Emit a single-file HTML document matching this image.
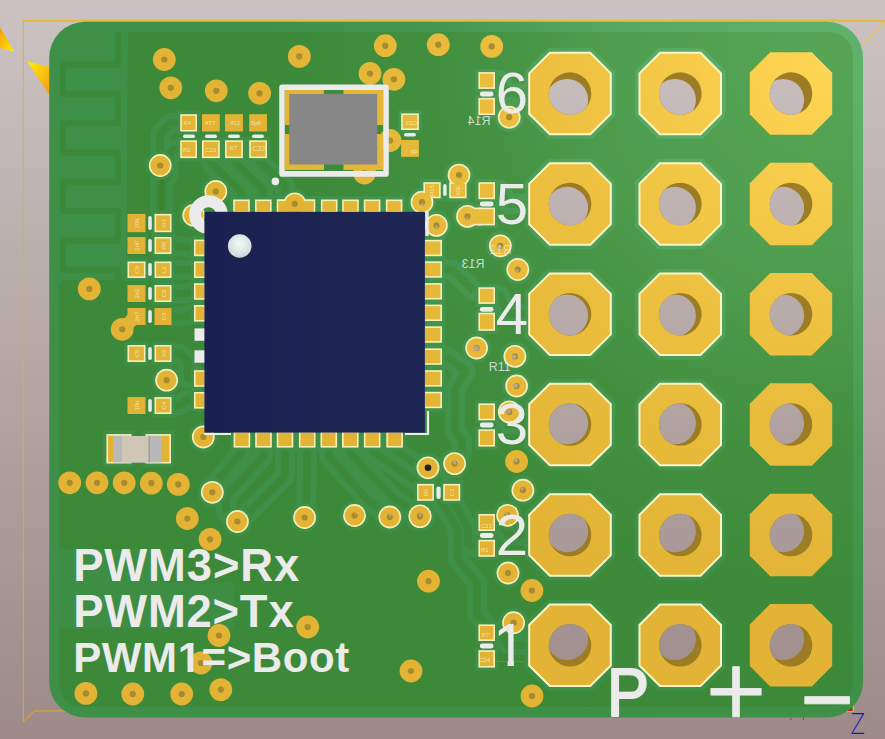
<!DOCTYPE html>
<html lang="en"><head><meta charset="utf-8"><title>PCB 3D view</title>
<style>html,body{margin:0;padding:0;background:#b3a5a4;overflow:hidden}svg{display:block}text{font-family:"Liberation Sans",sans-serif}</style></head><body>
<svg width="885" height="739" viewBox="0 0 885 739">
<defs>
<linearGradient id="bg" x1="0" y1="0" x2="0" y2="1"><stop offset="0" stop-color="#cbc3c2"/><stop offset="1" stop-color="#9d8a89"/></linearGradient>
<radialGradient id="green" gradientUnits="userSpaceOnUse" cx="830" cy="60" r="700"><stop offset="0" stop-color="#60b36b"/><stop offset="0.3" stop-color="#57a962"/><stop offset="0.55" stop-color="#469850"/><stop offset="0.8" stop-color="#3f9149"/><stop offset="1" stop-color="#3e9048"/></radialGradient>
<radialGradient id="gold" gradientUnits="userSpaceOnUse" cx="830" cy="60" r="560"><stop offset="0" stop-color="#ffd654"/><stop offset="0.5" stop-color="#edc040"/><stop offset="1" stop-color="#e2b334"/></radialGradient>
<linearGradient id="tri" x1="0" y1="0" x2="1" y2="1"><stop offset="0" stop-color="#f59a10"/><stop offset="1" stop-color="#fff000"/></linearGradient>
<linearGradient id="tri2" x1="0" y1="0" x2="1" y2="1"><stop offset="0" stop-color="#fff000"/><stop offset="1" stop-color="#f09020"/></linearGradient>
<linearGradient id="chip" x1="0" y1="0" x2="1" y2="0"><stop offset="0" stop-color="#1a2150"/><stop offset="1" stop-color="#1f2755"/></linearGradient>
<radialGradient id="dot" cx="0.5" cy="0.4" r="0.6"><stop offset="0" stop-color="#f4fbfa"/><stop offset="1" stop-color="#c9d9d8"/></radialGradient>
<clipPath id="boardclip"><rect x="49.2" y="21.8" width="813.8" height="695.8" rx="36"/></clipPath>
</defs>
<rect width="885" height="739" fill="url(#bg)"/>
<g fill="none" stroke="#e0b030" stroke-width="1.2"><path stroke-width="2" stroke="#e6b93a" d="M885,20.8 H22.8"/><path stroke-width="0.9" d="M23.3,21 V721.5 L34.2,710.9 H72"/><path stroke-width="0.8" stroke="#e8c040" d="M885,22 L858,49"/></g>
<polygon points="0,27 14.6,52 0,47.8" fill="url(#tri)"/>
<polygon points="27,61.2 52,67.5 52,99" fill="url(#tri2)"/>
<path d="M790,720 L791.8,717.7 M803.4,717.7 V719.8" stroke="#e01010" stroke-width="1" fill="none"/>
<rect x="845" y="700" width="9" height="12" fill="#e0b030"/><polygon points="848,711 853,711 851,705" fill="#e01010"/><polygon points="851,705 853,700 853,711" fill="#10d010"/>
<text x="850.5" y="733.5" font-size="28" fill="#1515c8" textLength="14.5" lengthAdjust="spacingAndGlyphs" style="font-family:'DejaVu Sans','Liberation Sans',sans-serif;font-weight:200">Z</text>
<rect x="49.2" y="21.8" width="813.8" height="695.8" rx="36" fill="url(#green)"/>
<g clip-path="url(#boardclip)">
<path fill="rgba(50,110,0,0.20)" d="M128,32 H826 Q853,32 853,59 V680 Q853,707 826,707 H86 Q59,707 59,680 V284 L63,280 H126 Z"/>
<path d="M118,32 V64.6 H63 V93.9 H118 V123.2 H63 V152.5 H118 V181.8 H63 V211.1 H118 V240.4 H63 V269.7 H118 V280" fill="none" stroke="rgba(50,110,0,0.20)" stroke-width="6" stroke-linejoin="round"/>
<path d="M59,549 H165.6 V582.7 H234 V628.4 H59 Z" fill="url(#green)" fill-opacity="0.75"/>
<path d="M180.0,123.0 L170.0,123.0 L160.2,134.0 L160.2,213.0" fill="none" stroke="url(#green)" stroke-width="20" stroke-linejoin="round" stroke-linecap="round"/>
<path d="M180.0,149.0 L174.0,149.0 L168.0,156.0 L168.0,176.0 L163.0,182.0 L163.0,213.0" fill="none" stroke="url(#green)" stroke-width="20" stroke-linejoin="round" stroke-linecap="round"/>
<path d="M211.0,158.0 L211.0,163.0 L241.5,192.0 L241.5,200.0" fill="none" stroke="url(#green)" stroke-width="20" stroke-linejoin="round" stroke-linecap="round"/>
<path d="M234.0,158.0 L234.0,161.0 L263.3,190.0 L263.3,200.0" fill="none" stroke="url(#green)" stroke-width="20" stroke-linejoin="round" stroke-linecap="round"/>
<path d="M258.0,158.0 L258.0,160.0 L285.0,186.0 L285.0,200.0" fill="none" stroke="url(#green)" stroke-width="20" stroke-linejoin="round" stroke-linecap="round"/>
<path d="M171.5,245.5 L194.0,247.9" fill="none" stroke="url(#green)" stroke-width="20" stroke-linejoin="round" stroke-linecap="round"/>
<path d="M171.5,269.7 L194.0,269.7" fill="none" stroke="url(#green)" stroke-width="20" stroke-linejoin="round" stroke-linecap="round"/>
<path d="M171.5,293.5 L185.0,293.5 L194.0,291.5" fill="none" stroke="url(#green)" stroke-width="20" stroke-linejoin="round" stroke-linecap="round"/>
<path d="M171.5,316.5 L185.0,316.5 L194.0,313.3" fill="none" stroke="url(#green)" stroke-width="20" stroke-linejoin="round" stroke-linecap="round"/>
<path d="M171.5,353.5 L180.0,353.5 L188.0,361.0 L188.0,378.5 L194.0,378.5" fill="none" stroke="url(#green)" stroke-width="20" stroke-linejoin="round" stroke-linecap="round"/>
<path d="M171.5,405.5 L180.0,405.5 L186.0,400.3 L194.0,400.3" fill="none" stroke="url(#green)" stroke-width="20" stroke-linejoin="round" stroke-linecap="round"/>
<path d="M241.9,447.6 L241.9,452.0 L214.0,485.0" fill="none" stroke="url(#green)" stroke-width="20" stroke-linejoin="round" stroke-linecap="round"/>
<path d="M263.5,447.6 L263.5,456.0 L226.0,497.0 L226.0,512.0 L232.0,517.0" fill="none" stroke="url(#green)" stroke-width="20" stroke-linejoin="round" stroke-linecap="round"/>
<path d="M285.0,447.6 L285.0,476.0 L246.0,515.0" fill="none" stroke="url(#green)" stroke-width="20" stroke-linejoin="round" stroke-linecap="round"/>
<path d="M307.2,447.6 L306.0,517.0" fill="none" stroke="url(#green)" stroke-width="20" stroke-linejoin="round" stroke-linecap="round"/>
<path d="M328.8,447.6 L328.8,456.0 L366.0,498.0 L385.0,513.0" fill="none" stroke="url(#green)" stroke-width="20" stroke-linejoin="round" stroke-linecap="round"/>
<path d="M350.3,447.6 L350.3,453.0 L395.0,500.0 L416.0,513.0" fill="none" stroke="url(#green)" stroke-width="20" stroke-linejoin="round" stroke-linecap="round"/>
<path d="M372.2,447.6 L372.2,451.0 L438.0,497.0 L457.6,528.0 L457.6,559.0 L477.0,583.0 L477.0,614.0 L486.0,624.0" fill="none" stroke="url(#green)" stroke-width="20" stroke-linejoin="round" stroke-linecap="round"/>
<path d="M394.6,447.6 L394.6,449.0 L440.0,482.0 L447.0,490.0 L468.0,528.0 L468.0,545.0 L478.0,548.0" fill="none" stroke="url(#green)" stroke-width="20" stroke-linejoin="round" stroke-linecap="round"/>
<path d="M442.0,269.5 L452.0,269.5 L474.0,291.0" fill="none" stroke="url(#green)" stroke-width="20" stroke-linejoin="round" stroke-linecap="round"/>
<path d="M442.0,356.6 L448.0,357.0 L466.0,371.0 L455.0,389.0 L455.0,431.0 L462.0,440.0 L462.0,452.0" fill="none" stroke="url(#green)" stroke-width="20" stroke-linejoin="round" stroke-linecap="round"/>
<path d="M495.0,80.0 L500.0,80.0 L508.0,93.6 L529.0,93.6" fill="none" stroke="url(#green)" stroke-width="20" stroke-linejoin="round" stroke-linecap="round"/>
<path d="M495.0,190.0 L500.0,190.0 L508.0,204.0 L529.0,204.0" fill="none" stroke="url(#green)" stroke-width="20" stroke-linejoin="round" stroke-linecap="round"/>
<path d="M495.0,296.0 L500.0,296.0 L508.0,314.0 L529.0,314.0" fill="none" stroke="url(#green)" stroke-width="20" stroke-linejoin="round" stroke-linecap="round"/>
<path d="M495.0,412.0 L500.0,412.0 L508.0,424.5 L529.0,424.5" fill="none" stroke="url(#green)" stroke-width="20" stroke-linejoin="round" stroke-linecap="round"/>
<path d="M495.0,522.0 L500.0,522.0 L508.0,535.0 L529.0,535.0" fill="none" stroke="url(#green)" stroke-width="20" stroke-linejoin="round" stroke-linecap="round"/>
<path d="M495.0,632.0 L500.0,632.0 L508.0,645.0 L529.0,645.0" fill="none" stroke="url(#green)" stroke-width="20" stroke-linejoin="round" stroke-linecap="round"/>
<path d="M180.0,123.0 L170.0,123.0 L160.2,134.0 L160.2,213.0" fill="none" stroke="rgba(50,110,0,0.20)" stroke-width="7.5" stroke-linejoin="round" stroke-linecap="butt"/>
<path d="M180.0,149.0 L174.0,149.0 L168.0,156.0 L168.0,176.0 L163.0,182.0 L163.0,213.0" fill="none" stroke="rgba(50,110,0,0.20)" stroke-width="7.5" stroke-linejoin="round" stroke-linecap="butt"/>
<path d="M211.0,158.0 L211.0,163.0 L241.5,192.0 L241.5,200.0" fill="none" stroke="rgba(50,110,0,0.20)" stroke-width="7.5" stroke-linejoin="round" stroke-linecap="butt"/>
<path d="M234.0,158.0 L234.0,161.0 L263.3,190.0 L263.3,200.0" fill="none" stroke="rgba(50,110,0,0.20)" stroke-width="7.5" stroke-linejoin="round" stroke-linecap="butt"/>
<path d="M258.0,158.0 L258.0,160.0 L285.0,186.0 L285.0,200.0" fill="none" stroke="rgba(50,110,0,0.20)" stroke-width="7.5" stroke-linejoin="round" stroke-linecap="butt"/>
<path d="M171.5,245.5 L194.0,247.9" fill="none" stroke="rgba(50,110,0,0.20)" stroke-width="7.5" stroke-linejoin="round" stroke-linecap="butt"/>
<path d="M171.5,269.7 L194.0,269.7" fill="none" stroke="rgba(50,110,0,0.20)" stroke-width="7.5" stroke-linejoin="round" stroke-linecap="butt"/>
<path d="M171.5,293.5 L185.0,293.5 L194.0,291.5" fill="none" stroke="rgba(50,110,0,0.20)" stroke-width="7.5" stroke-linejoin="round" stroke-linecap="butt"/>
<path d="M171.5,316.5 L185.0,316.5 L194.0,313.3" fill="none" stroke="rgba(50,110,0,0.20)" stroke-width="7.5" stroke-linejoin="round" stroke-linecap="butt"/>
<path d="M171.5,353.5 L180.0,353.5 L188.0,361.0 L188.0,378.5 L194.0,378.5" fill="none" stroke="rgba(50,110,0,0.20)" stroke-width="7.5" stroke-linejoin="round" stroke-linecap="butt"/>
<path d="M171.5,405.5 L180.0,405.5 L186.0,400.3 L194.0,400.3" fill="none" stroke="rgba(50,110,0,0.20)" stroke-width="7.5" stroke-linejoin="round" stroke-linecap="butt"/>
<path d="M241.9,447.6 L241.9,452.0 L214.0,485.0" fill="none" stroke="rgba(50,110,0,0.20)" stroke-width="7.5" stroke-linejoin="round" stroke-linecap="butt"/>
<path d="M263.5,447.6 L263.5,456.0 L226.0,497.0 L226.0,512.0 L232.0,517.0" fill="none" stroke="rgba(50,110,0,0.20)" stroke-width="7.5" stroke-linejoin="round" stroke-linecap="butt"/>
<path d="M285.0,447.6 L285.0,476.0 L246.0,515.0" fill="none" stroke="rgba(50,110,0,0.20)" stroke-width="7.5" stroke-linejoin="round" stroke-linecap="butt"/>
<path d="M307.2,447.6 L306.0,517.0" fill="none" stroke="rgba(50,110,0,0.20)" stroke-width="7.5" stroke-linejoin="round" stroke-linecap="butt"/>
<path d="M328.8,447.6 L328.8,456.0 L366.0,498.0 L385.0,513.0" fill="none" stroke="rgba(50,110,0,0.20)" stroke-width="7.5" stroke-linejoin="round" stroke-linecap="butt"/>
<path d="M350.3,447.6 L350.3,453.0 L395.0,500.0 L416.0,513.0" fill="none" stroke="rgba(50,110,0,0.20)" stroke-width="7.5" stroke-linejoin="round" stroke-linecap="butt"/>
<path d="M372.2,447.6 L372.2,451.0 L438.0,497.0 L457.6,528.0 L457.6,559.0 L477.0,583.0 L477.0,614.0 L486.0,624.0" fill="none" stroke="rgba(50,110,0,0.20)" stroke-width="7.5" stroke-linejoin="round" stroke-linecap="butt"/>
<path d="M394.6,447.6 L394.6,449.0 L440.0,482.0 L447.0,490.0 L468.0,528.0 L468.0,545.0 L478.0,548.0" fill="none" stroke="rgba(50,110,0,0.20)" stroke-width="7.5" stroke-linejoin="round" stroke-linecap="butt"/>
<path d="M442.0,269.5 L452.0,269.5 L474.0,291.0" fill="none" stroke="rgba(50,110,0,0.20)" stroke-width="7.5" stroke-linejoin="round" stroke-linecap="butt"/>
<path d="M442.0,356.6 L448.0,357.0 L466.0,371.0 L455.0,389.0 L455.0,431.0 L462.0,440.0 L462.0,452.0" fill="none" stroke="rgba(50,110,0,0.20)" stroke-width="7.5" stroke-linejoin="round" stroke-linecap="butt"/>
<path d="M495.0,80.0 L500.0,80.0 L508.0,93.6 L529.0,93.6" fill="none" stroke="rgba(50,110,0,0.20)" stroke-width="7.5" stroke-linejoin="round" stroke-linecap="butt"/>
<path d="M495.0,190.0 L500.0,190.0 L508.0,204.0 L529.0,204.0" fill="none" stroke="rgba(50,110,0,0.20)" stroke-width="7.5" stroke-linejoin="round" stroke-linecap="butt"/>
<path d="M495.0,296.0 L500.0,296.0 L508.0,314.0 L529.0,314.0" fill="none" stroke="rgba(50,110,0,0.20)" stroke-width="7.5" stroke-linejoin="round" stroke-linecap="butt"/>
<path d="M495.0,412.0 L500.0,412.0 L508.0,424.5 L529.0,424.5" fill="none" stroke="rgba(50,110,0,0.20)" stroke-width="7.5" stroke-linejoin="round" stroke-linecap="butt"/>
<path d="M495.0,522.0 L500.0,522.0 L508.0,535.0 L529.0,535.0" fill="none" stroke="rgba(50,110,0,0.20)" stroke-width="7.5" stroke-linejoin="round" stroke-linecap="butt"/>
<path d="M495.0,632.0 L500.0,632.0 L508.0,645.0 L529.0,645.0" fill="none" stroke="rgba(50,110,0,0.20)" stroke-width="7.5" stroke-linejoin="round" stroke-linecap="butt"/>
<polygon points="547.5,48.3 592.5,48.3 615.2,71.0 615.2,116.1 592.5,138.8 547.5,138.8 524.8,116.1 524.8,71.0" fill="url(#green)"/>
<polygon points="547.5,158.8 592.5,158.8 615.2,181.4 615.2,226.6 592.5,249.2 547.5,249.2 524.8,226.6 524.8,181.4" fill="url(#green)"/>
<polygon points="547.5,268.9 592.5,268.9 615.2,291.6 615.2,336.8 592.5,359.4 547.5,359.4 524.8,336.8 524.8,291.6" fill="url(#green)"/>
<polygon points="547.5,379.2 592.5,379.2 615.2,401.9 615.2,447.1 592.5,469.8 547.5,469.8 524.8,447.1 524.8,401.9" fill="url(#green)"/>
<polygon points="547.5,489.8 592.5,489.8 615.2,512.5 615.2,557.5 592.5,580.2 547.5,580.2 524.8,557.5 524.8,512.5" fill="url(#green)"/>
<polygon points="547.5,600.0 592.5,600.0 615.2,622.8 615.2,667.8 592.5,690.5 547.5,690.5 524.8,667.8 524.8,622.8" fill="url(#green)"/>
<polygon points="657.8,48.3 702.8,48.3 725.5,71.0 725.5,116.1 702.8,138.8 657.8,138.8 635.0,116.1 635.0,71.0" fill="url(#green)"/>
<polygon points="657.8,158.8 702.8,158.8 725.5,181.4 725.5,226.6 702.8,249.2 657.8,249.2 635.0,226.6 635.0,181.4" fill="url(#green)"/>
<polygon points="657.8,268.9 702.8,268.9 725.5,291.6 725.5,336.8 702.8,359.4 657.8,359.4 635.0,336.8 635.0,291.6" fill="url(#green)"/>
<polygon points="657.8,379.2 702.8,379.2 725.5,401.9 725.5,447.1 702.8,469.8 657.8,469.8 635.0,447.1 635.0,401.9" fill="url(#green)"/>
<polygon points="657.8,489.8 702.8,489.8 725.5,512.5 725.5,557.5 702.8,580.2 657.8,580.2 635.0,557.5 635.0,512.5" fill="url(#green)"/>
<polygon points="657.8,600.0 702.8,600.0 725.5,622.8 725.5,667.8 702.8,690.5 657.8,690.5 635.0,667.8 635.0,622.8" fill="url(#green)"/>
<polygon points="549.8,52.8 590.2,52.8 610.8,73.3 610.8,113.8 590.2,134.3 549.8,134.3 529.2,113.8 529.2,73.3" fill="url(#gold)" stroke="#fbf6c8" stroke-width="2"/>
<polygon points="549.8,163.2 590.2,163.2 610.8,183.8 610.8,224.2 590.2,244.8 549.8,244.8 529.2,224.2 529.2,183.8" fill="url(#gold)" stroke="#fbf6c8" stroke-width="2"/>
<polygon points="549.8,273.4 590.2,273.4 610.8,293.9 610.8,334.4 590.2,354.9 549.8,354.9 529.2,334.4 529.2,293.9" fill="url(#gold)" stroke="#fbf6c8" stroke-width="2"/>
<polygon points="549.8,383.8 590.2,383.8 610.8,404.2 610.8,444.8 590.2,465.2 549.8,465.2 529.2,444.8 529.2,404.2" fill="url(#gold)" stroke="#fbf6c8" stroke-width="2"/>
<polygon points="549.8,494.2 590.2,494.2 610.8,514.8 610.8,555.2 590.2,575.8 549.8,575.8 529.2,555.2 529.2,514.8" fill="url(#gold)" stroke="#fbf6c8" stroke-width="2"/>
<polygon points="549.8,604.5 590.2,604.5 610.8,625.0 610.8,665.5 590.2,686.0 549.8,686.0 529.2,665.5 529.2,625.0" fill="url(#gold)" stroke="#fbf6c8" stroke-width="2"/>
<polygon points="660.0,52.8 700.5,52.8 721.0,73.3 721.0,113.8 700.5,134.3 660.0,134.3 639.5,113.8 639.5,73.3" fill="url(#gold)" stroke="#fbf6c8" stroke-width="2"/>
<polygon points="660.0,163.2 700.5,163.2 721.0,183.8 721.0,224.2 700.5,244.8 660.0,244.8 639.5,224.2 639.5,183.8" fill="url(#gold)" stroke="#fbf6c8" stroke-width="2"/>
<polygon points="660.0,273.4 700.5,273.4 721.0,293.9 721.0,334.4 700.5,354.9 660.0,354.9 639.5,334.4 639.5,293.9" fill="url(#gold)" stroke="#fbf6c8" stroke-width="2"/>
<polygon points="660.0,383.8 700.5,383.8 721.0,404.2 721.0,444.8 700.5,465.2 660.0,465.2 639.5,444.8 639.5,404.2" fill="url(#gold)" stroke="#fbf6c8" stroke-width="2"/>
<polygon points="660.0,494.2 700.5,494.2 721.0,514.8 721.0,555.2 700.5,575.8 660.0,575.8 639.5,555.2 639.5,514.8" fill="url(#gold)" stroke="#fbf6c8" stroke-width="2"/>
<polygon points="660.0,604.5 700.5,604.5 721.0,625.0 721.0,665.5 700.5,686.0 660.0,686.0 639.5,665.5 639.5,625.0" fill="url(#gold)" stroke="#fbf6c8" stroke-width="2"/>
<polygon points="770.2,52.3 811.8,52.3 832.2,72.8 832.2,114.3 811.8,134.8 770.2,134.8 749.8,114.3 749.8,72.8" fill="url(#gold)"/>
<polygon points="770.2,162.8 811.8,162.8 832.2,183.2 832.2,224.8 811.8,245.2 770.2,245.2 749.8,224.8 749.8,183.2" fill="url(#gold)"/>
<polygon points="770.2,272.9 811.8,272.9 832.2,293.4 832.2,334.9 811.8,355.4 770.2,355.4 749.8,334.9 749.8,293.4" fill="url(#gold)"/>
<polygon points="770.2,383.2 811.8,383.2 832.2,403.8 832.2,445.2 811.8,465.8 770.2,465.8 749.8,445.2 749.8,403.8" fill="url(#gold)"/>
<polygon points="770.2,493.8 811.8,493.8 832.2,514.2 832.2,555.8 811.8,576.2 770.2,576.2 749.8,555.8 749.8,514.2" fill="url(#gold)"/>
<polygon points="770.2,604.0 811.8,604.0 832.2,624.5 832.2,666.0 811.8,686.5 770.2,686.5 749.8,666.0 749.8,624.5" fill="url(#gold)"/>
<rect x="177.0" y="111.0" width="23.2" height="23.7" rx="2" fill="url(#green)"/>
<rect x="177.0" y="137.1" width="23.2" height="24.2" rx="2" fill="url(#green)"/>
<rect x="198.8" y="137.1" width="24.2" height="24.2" rx="2" fill="url(#green)"/>
<rect x="221.8" y="137.1" width="24.3" height="24.2" rx="2" fill="url(#green)"/>
<rect x="246.0" y="137.1" width="24.2" height="24.2" rx="2" fill="url(#green)"/>
<rect x="397.9" y="110.2" width="24.2" height="23.0" rx="2" fill="url(#green)"/>
<rect x="151.3" y="210.7" width="23.4" height="24.7" rx="2" fill="url(#green)"/>
<rect x="151.3" y="233.8" width="23.4" height="23.4" rx="2" fill="url(#green)"/>
<rect x="124.3" y="258.3" width="24.4" height="22.9" rx="2" fill="url(#green)"/>
<rect x="151.3" y="258.3" width="23.4" height="22.9" rx="2" fill="url(#green)"/>
<rect x="151.3" y="281.8" width="23.4" height="23.4" rx="2" fill="url(#green)"/>
<rect x="124.3" y="341.8" width="24.4" height="23.4" rx="2" fill="url(#green)"/>
<rect x="151.3" y="341.8" width="23.4" height="23.4" rx="2" fill="url(#green)"/>
<rect x="151.3" y="393.9" width="23.4" height="23.3" rx="2" fill="url(#green)"/>
<rect x="475.2" y="68.9" width="23.0" height="23.2" rx="2" fill="url(#green)"/>
<rect x="475.2" y="94.7" width="23.0" height="23.5" rx="2" fill="url(#green)"/>
<rect x="475.2" y="179.0" width="23.0" height="23.4" rx="2" fill="url(#green)"/>
<rect x="475.2" y="204.4" width="23.0" height="24.2" rx="2" fill="url(#green)"/>
<rect x="475.2" y="284.1" width="23.0" height="23.0" rx="2" fill="url(#green)"/>
<rect x="475.2" y="309.5" width="23.0" height="24.5" rx="2" fill="url(#green)"/>
<rect x="475.2" y="400.2" width="23.0" height="23.3" rx="2" fill="url(#green)"/>
<rect x="475.2" y="426.1" width="23.0" height="23.7" rx="2" fill="url(#green)"/>
<rect x="475.2" y="510.8" width="23.0" height="23.4" rx="2" fill="url(#green)"/>
<rect x="475.2" y="536.6" width="23.0" height="23.4" rx="2" fill="url(#green)"/>
<rect x="475.2" y="621.2" width="23.0" height="23.0" rx="2" fill="url(#green)"/>
<rect x="475.2" y="647.0" width="23.0" height="23.8" rx="2" fill="url(#green)"/>
<rect x="420.2" y="179.0" width="23.7" height="22.5" rx="2" fill="url(#green)"/>
<rect x="446.0" y="179.0" width="23.8" height="22.5" rx="2" fill="url(#green)"/>
<rect x="413.8" y="480.7" width="23.3" height="23.3" rx="2" fill="url(#green)"/>
<rect x="440.0" y="480.7" width="23.4" height="23.3" rx="2" fill="url(#green)"/>
<rect x="230.0" y="196.3" width="23.0" height="19.9" rx="2" fill="url(#green)"/>
<rect x="251.8" y="196.3" width="23.0" height="19.9" rx="2" fill="url(#green)"/>
<rect x="273.5" y="196.3" width="23.0" height="19.9" rx="2" fill="url(#green)"/>
<rect x="295.5" y="196.3" width="23.0" height="19.9" rx="2" fill="url(#green)"/>
<rect x="317.7" y="196.3" width="23.0" height="19.9" rx="2" fill="url(#green)"/>
<rect x="339.0" y="196.3" width="23.0" height="19.9" rx="2" fill="url(#green)"/>
<rect x="360.6" y="196.3" width="23.0" height="19.9" rx="2" fill="url(#green)"/>
<rect x="382.6" y="196.3" width="23.0" height="19.9" rx="2" fill="url(#green)"/>
<rect x="230.4" y="427.8" width="23.0" height="23.0" rx="2" fill="url(#green)"/>
<rect x="252.0" y="427.8" width="23.0" height="23.0" rx="2" fill="url(#green)"/>
<rect x="273.5" y="427.8" width="23.0" height="23.0" rx="2" fill="url(#green)"/>
<rect x="295.7" y="427.8" width="23.0" height="23.0" rx="2" fill="url(#green)"/>
<rect x="317.3" y="427.8" width="23.0" height="23.0" rx="2" fill="url(#green)"/>
<rect x="338.8" y="427.8" width="23.0" height="23.0" rx="2" fill="url(#green)"/>
<rect x="360.7" y="427.8" width="23.0" height="23.0" rx="2" fill="url(#green)"/>
<rect x="383.1" y="427.8" width="23.0" height="23.0" rx="2" fill="url(#green)"/>
<rect x="190.8" y="236.4" width="18.4" height="23.0" rx="2" fill="url(#green)"/>
<rect x="190.8" y="258.2" width="18.4" height="23.0" rx="2" fill="url(#green)"/>
<rect x="190.8" y="280.0" width="18.4" height="23.0" rx="2" fill="url(#green)"/>
<rect x="190.8" y="301.8" width="18.4" height="23.0" rx="2" fill="url(#green)"/>
<rect x="190.8" y="367.0" width="18.4" height="23.0" rx="2" fill="url(#green)"/>
<rect x="190.8" y="388.8" width="18.4" height="23.0" rx="2" fill="url(#green)"/>
<rect x="419.8" y="236.6" width="25.4" height="22.8" rx="2" fill="url(#green)"/>
<rect x="419.8" y="258.1" width="25.4" height="22.8" rx="2" fill="url(#green)"/>
<rect x="419.8" y="279.9" width="25.4" height="22.8" rx="2" fill="url(#green)"/>
<rect x="419.8" y="301.4" width="25.4" height="22.8" rx="2" fill="url(#green)"/>
<rect x="419.8" y="323.1" width="25.4" height="22.8" rx="2" fill="url(#green)"/>
<rect x="419.8" y="345.2" width="25.4" height="22.8" rx="2" fill="url(#green)"/>
<rect x="419.8" y="367.0" width="25.4" height="22.8" rx="2" fill="url(#green)"/>
<rect x="419.8" y="388.6" width="25.4" height="22.8" rx="2" fill="url(#green)"/>
<rect x="273.8" y="196.3" width="44.4" height="19.9" rx="2" fill="url(#green)"/>
<rect x="464.3" y="204.4" width="20.9" height="24.2" rx="2" fill="url(#green)"/>
<rect x="103.2" y="430.9" width="31.5" height="35.8" rx="2" fill="url(#green)"/>
<rect x="142.3" y="430.9" width="31.9" height="35.8" rx="2" fill="url(#green)"/>
<circle cx="160.2" cy="165.5" r="14.6" fill="url(#green)"/>
<circle cx="215.8" cy="191.5" r="14.6" fill="url(#green)"/>
<circle cx="193.7" cy="215.3" r="14.6" fill="url(#green)"/>
<circle cx="459.0" cy="175.1" r="14.6" fill="url(#green)"/>
<circle cx="422.0" cy="202.2" r="14.6" fill="url(#green)"/>
<circle cx="436.4" cy="225.4" r="14.6" fill="url(#green)"/>
<circle cx="467.5" cy="216.4" r="14.6" fill="url(#green)"/>
<circle cx="500.3" cy="245.8" r="14.6" fill="url(#green)"/>
<circle cx="517.8" cy="269.5" r="14.6" fill="url(#green)"/>
<circle cx="509.2" cy="117.2" r="14.6" fill="url(#green)"/>
<circle cx="476.6" cy="348.0" r="14.6" fill="url(#green)"/>
<circle cx="514.9" cy="356.4" r="14.6" fill="url(#green)"/>
<circle cx="516.6" cy="386.0" r="14.6" fill="url(#green)"/>
<circle cx="509.3" cy="411.9" r="14.6" fill="url(#green)"/>
<circle cx="454.6" cy="463.6" r="14.6" fill="url(#green)"/>
<circle cx="428.0" cy="467.8" r="14.6" fill="url(#green)"/>
<circle cx="522.9" cy="490.2" r="14.6" fill="url(#green)"/>
<circle cx="507.6" cy="515.3" r="14.6" fill="url(#green)"/>
<circle cx="420.0" cy="515.8" r="14.6" fill="url(#green)"/>
<circle cx="508.0" cy="573.0" r="14.6" fill="url(#green)"/>
<circle cx="513.6" cy="622.7" r="14.6" fill="url(#green)"/>
<circle cx="212.3" cy="492.3" r="14.6" fill="url(#green)"/>
<circle cx="237.4" cy="521.5" r="14.6" fill="url(#green)"/>
<circle cx="203.3" cy="437.0" r="14.6" fill="url(#green)"/>
<circle cx="304.6" cy="517.5" r="14.6" fill="url(#green)"/>
<circle cx="354.5" cy="515.5" r="14.6" fill="url(#green)"/>
<circle cx="389.8" cy="517.0" r="14.6" fill="url(#green)"/>
<circle cx="420.0" cy="516.6" r="14.6" fill="url(#green)"/>
<circle cx="166.6" cy="380.2" r="14.6" fill="url(#green)"/>
<circle cx="294.8" cy="203.8" r="14.6" fill="url(#green)"/>
<rect x="180.2" y="114.2" width="16.8" height="17.3" fill="#f6f0b8"/>
<rect x="180.2" y="140.3" width="16.8" height="17.8" fill="#f6f0b8"/>
<rect x="202.0" y="140.3" width="17.8" height="17.8" fill="#f6f0b8"/>
<rect x="225.0" y="140.3" width="17.9" height="17.8" fill="#f6f0b8"/>
<rect x="249.2" y="140.3" width="17.8" height="17.8" fill="#f6f0b8"/>
<rect x="401.1" y="113.4" width="17.8" height="16.6" fill="#f6f0b8"/>
<rect x="154.5" y="213.9" width="17.0" height="18.3" fill="#f6f0b8"/>
<rect x="154.5" y="237.0" width="17.0" height="17.0" fill="#f6f0b8"/>
<rect x="127.5" y="261.5" width="18.0" height="16.5" fill="#f6f0b8"/>
<rect x="154.5" y="261.5" width="17.0" height="16.5" fill="#f6f0b8"/>
<rect x="154.5" y="285.0" width="17.0" height="17.0" fill="#f6f0b8"/>
<rect x="127.5" y="345.0" width="18.0" height="17.0" fill="#f6f0b8"/>
<rect x="154.5" y="345.0" width="17.0" height="17.0" fill="#f6f0b8"/>
<rect x="154.5" y="397.1" width="17.0" height="16.9" fill="#f6f0b8"/>
<rect x="478.4" y="72.1" width="16.6" height="16.8" fill="#f6f0b8"/>
<rect x="478.4" y="97.9" width="16.6" height="17.1" fill="#f6f0b8"/>
<rect x="478.4" y="182.2" width="16.6" height="17.0" fill="#f6f0b8"/>
<rect x="478.4" y="207.6" width="16.6" height="17.8" fill="#f6f0b8"/>
<rect x="478.4" y="287.3" width="16.6" height="16.6" fill="#f6f0b8"/>
<rect x="478.4" y="312.7" width="16.6" height="18.1" fill="#f6f0b8"/>
<rect x="478.4" y="403.4" width="16.6" height="16.9" fill="#f6f0b8"/>
<rect x="478.4" y="429.3" width="16.6" height="17.3" fill="#f6f0b8"/>
<rect x="478.4" y="514.0" width="16.6" height="17.0" fill="#f6f0b8"/>
<rect x="478.4" y="539.8" width="16.6" height="17.0" fill="#f6f0b8"/>
<rect x="478.4" y="624.4" width="16.6" height="16.6" fill="#f6f0b8"/>
<rect x="478.4" y="650.2" width="16.6" height="17.4" fill="#f6f0b8"/>
<rect x="423.4" y="182.2" width="17.3" height="16.1" fill="#f6f0b8"/>
<rect x="449.2" y="182.2" width="17.4" height="16.1" fill="#f6f0b8"/>
<rect x="417.0" y="483.9" width="16.9" height="16.9" fill="#f6f0b8"/>
<rect x="443.2" y="483.9" width="17.0" height="16.9" fill="#f6f0b8"/>
<rect x="233.2" y="199.5" width="16.6" height="13.5" fill="#f6f0b8"/>
<rect x="255.0" y="199.5" width="16.6" height="13.5" fill="#f6f0b8"/>
<rect x="276.7" y="199.5" width="16.6" height="13.5" fill="#f6f0b8"/>
<rect x="298.7" y="199.5" width="16.6" height="13.5" fill="#f6f0b8"/>
<rect x="320.9" y="199.5" width="16.6" height="13.5" fill="#f6f0b8"/>
<rect x="342.2" y="199.5" width="16.6" height="13.5" fill="#f6f0b8"/>
<rect x="363.8" y="199.5" width="16.6" height="13.5" fill="#f6f0b8"/>
<rect x="385.8" y="199.5" width="16.6" height="13.5" fill="#f6f0b8"/>
<rect x="233.6" y="431.0" width="16.6" height="16.6" fill="#f6f0b8"/>
<rect x="255.2" y="431.0" width="16.6" height="16.6" fill="#f6f0b8"/>
<rect x="276.7" y="431.0" width="16.6" height="16.6" fill="#f6f0b8"/>
<rect x="298.9" y="431.0" width="16.6" height="16.6" fill="#f6f0b8"/>
<rect x="320.5" y="431.0" width="16.6" height="16.6" fill="#f6f0b8"/>
<rect x="342.0" y="431.0" width="16.6" height="16.6" fill="#f6f0b8"/>
<rect x="363.9" y="431.0" width="16.6" height="16.6" fill="#f6f0b8"/>
<rect x="386.3" y="431.0" width="16.6" height="16.6" fill="#f6f0b8"/>
<rect x="194.0" y="239.6" width="12.0" height="16.6" fill="#f6f0b8"/>
<rect x="194.0" y="261.4" width="12.0" height="16.6" fill="#f6f0b8"/>
<rect x="194.0" y="283.2" width="12.0" height="16.6" fill="#f6f0b8"/>
<rect x="194.0" y="305.0" width="12.0" height="16.6" fill="#f6f0b8"/>
<rect x="194.0" y="370.2" width="12.0" height="16.6" fill="#f6f0b8"/>
<rect x="194.0" y="392.0" width="12.0" height="16.6" fill="#f6f0b8"/>
<rect x="423.0" y="239.8" width="19.0" height="16.4" fill="#f6f0b8"/>
<rect x="423.0" y="261.3" width="19.0" height="16.4" fill="#f6f0b8"/>
<rect x="423.0" y="283.1" width="19.0" height="16.4" fill="#f6f0b8"/>
<rect x="423.0" y="304.6" width="19.0" height="16.4" fill="#f6f0b8"/>
<rect x="423.0" y="326.3" width="19.0" height="16.4" fill="#f6f0b8"/>
<rect x="423.0" y="348.4" width="19.0" height="16.4" fill="#f6f0b8"/>
<rect x="423.0" y="370.2" width="19.0" height="16.4" fill="#f6f0b8"/>
<rect x="423.0" y="391.8" width="19.0" height="16.4" fill="#f6f0b8"/>
<rect x="277.0" y="199.5" width="38.0" height="13.5" fill="#f6f0b8"/>
<rect x="467.5" y="207.6" width="14.5" height="17.8" fill="#f6f0b8"/>
<rect x="106.4" y="434.1" width="25.1" height="29.4" fill="#f6f0b8"/>
<rect x="145.5" y="434.1" width="25.5" height="29.4" fill="#f6f0b8"/>
<circle cx="160.2" cy="165.5" r="11.4" fill="#f6f0b8"/>
<circle cx="215.8" cy="191.5" r="11.4" fill="#f6f0b8"/>
<circle cx="193.7" cy="215.3" r="11.4" fill="#f6f0b8"/>
<circle cx="459.0" cy="175.1" r="11.4" fill="#f6f0b8"/>
<circle cx="422.0" cy="202.2" r="11.4" fill="#f6f0b8"/>
<circle cx="436.4" cy="225.4" r="11.4" fill="#f6f0b8"/>
<circle cx="467.5" cy="216.4" r="11.4" fill="#f6f0b8"/>
<circle cx="500.3" cy="245.8" r="11.4" fill="#f6f0b8"/>
<circle cx="517.8" cy="269.5" r="11.4" fill="#f6f0b8"/>
<circle cx="509.2" cy="117.2" r="11.4" fill="#f6f0b8"/>
<circle cx="476.6" cy="348.0" r="11.4" fill="#f6f0b8"/>
<circle cx="514.9" cy="356.4" r="11.4" fill="#f6f0b8"/>
<circle cx="516.6" cy="386.0" r="11.4" fill="#f6f0b8"/>
<circle cx="509.3" cy="411.9" r="11.4" fill="#f6f0b8"/>
<circle cx="454.6" cy="463.6" r="11.4" fill="#f6f0b8"/>
<circle cx="428.0" cy="467.8" r="11.4" fill="#f6f0b8"/>
<circle cx="522.9" cy="490.2" r="11.4" fill="#f6f0b8"/>
<circle cx="507.6" cy="515.3" r="11.4" fill="#f6f0b8"/>
<circle cx="420.0" cy="515.8" r="11.4" fill="#f6f0b8"/>
<circle cx="508.0" cy="573.0" r="11.4" fill="#f6f0b8"/>
<circle cx="513.6" cy="622.7" r="11.4" fill="#f6f0b8"/>
<circle cx="212.3" cy="492.3" r="11.4" fill="#f6f0b8"/>
<circle cx="237.4" cy="521.5" r="11.4" fill="#f6f0b8"/>
<circle cx="203.3" cy="437.0" r="11.4" fill="#f6f0b8"/>
<circle cx="304.6" cy="517.5" r="11.4" fill="#f6f0b8"/>
<circle cx="354.5" cy="515.5" r="11.4" fill="#f6f0b8"/>
<circle cx="389.8" cy="517.0" r="11.4" fill="#f6f0b8"/>
<circle cx="420.0" cy="516.6" r="11.4" fill="#f6f0b8"/>
<circle cx="166.6" cy="380.2" r="11.4" fill="#f6f0b8"/>
<circle cx="294.8" cy="203.8" r="11.4" fill="#f6f0b8"/>
<rect x="181.8" y="115.8" width="13.6" height="14.1" fill="url(#gold)"/>
<rect x="181.8" y="141.9" width="13.6" height="14.6" fill="url(#gold)"/>
<rect x="202.0" y="114.2" width="17.8" height="17.3" fill="url(#gold)"/>
<rect x="203.6" y="141.9" width="14.6" height="14.6" fill="url(#gold)"/>
<rect x="225.0" y="114.2" width="17.9" height="17.3" fill="url(#gold)"/>
<rect x="226.6" y="141.9" width="14.7" height="14.6" fill="url(#gold)"/>
<rect x="249.2" y="114.2" width="17.8" height="17.3" fill="url(#gold)"/>
<rect x="250.8" y="141.9" width="14.6" height="14.6" fill="url(#gold)"/>
<rect x="402.7" y="115.0" width="14.6" height="13.4" fill="url(#gold)"/>
<rect x="401.1" y="140.0" width="17.8" height="16.8" fill="url(#gold)"/>
<rect x="127.5" y="213.9" width="18.0" height="18.3" fill="url(#gold)"/>
<rect x="156.1" y="215.5" width="13.8" height="15.1" fill="url(#gold)"/>
<rect x="127.5" y="237.0" width="18.0" height="17.0" fill="url(#gold)"/>
<rect x="156.1" y="238.6" width="13.8" height="13.8" fill="url(#gold)"/>
<rect x="129.1" y="263.1" width="14.8" height="13.3" fill="url(#gold)"/>
<rect x="156.1" y="263.1" width="13.8" height="13.3" fill="url(#gold)"/>
<rect x="127.5" y="285.0" width="18.0" height="17.0" fill="url(#gold)"/>
<rect x="156.1" y="286.6" width="13.8" height="13.8" fill="url(#gold)"/>
<rect x="127.5" y="308.0" width="18.0" height="17.0" fill="url(#gold)"/>
<rect x="154.5" y="308.0" width="17.0" height="17.0" fill="url(#gold)"/>
<rect x="129.1" y="346.6" width="14.8" height="13.8" fill="url(#gold)"/>
<rect x="156.1" y="346.6" width="13.8" height="13.8" fill="url(#gold)"/>
<rect x="127.5" y="397.1" width="18.0" height="16.9" fill="url(#gold)"/>
<rect x="156.1" y="398.7" width="13.8" height="13.7" fill="url(#gold)"/>
<rect x="480.0" y="73.7" width="13.4" height="13.6" fill="url(#gold)"/>
<rect x="480.0" y="99.5" width="13.4" height="13.9" fill="url(#gold)"/>
<rect x="480.0" y="183.8" width="13.4" height="13.8" fill="url(#gold)"/>
<rect x="480.0" y="209.2" width="13.4" height="14.6" fill="url(#gold)"/>
<rect x="480.0" y="288.9" width="13.4" height="13.4" fill="url(#gold)"/>
<rect x="480.0" y="314.3" width="13.4" height="14.9" fill="url(#gold)"/>
<rect x="480.0" y="405.0" width="13.4" height="13.7" fill="url(#gold)"/>
<rect x="480.0" y="430.9" width="13.4" height="14.1" fill="url(#gold)"/>
<rect x="480.0" y="515.6" width="13.4" height="13.8" fill="url(#gold)"/>
<rect x="480.0" y="541.4" width="13.4" height="13.8" fill="url(#gold)"/>
<rect x="480.0" y="626.0" width="13.4" height="13.4" fill="url(#gold)"/>
<rect x="480.0" y="651.8" width="13.4" height="14.2" fill="url(#gold)"/>
<rect x="425.0" y="183.8" width="14.1" height="12.9" fill="url(#gold)"/>
<rect x="450.8" y="183.8" width="14.2" height="12.9" fill="url(#gold)"/>
<rect x="418.6" y="485.5" width="13.7" height="13.7" fill="url(#gold)"/>
<rect x="444.8" y="485.5" width="13.8" height="13.7" fill="url(#gold)"/>
<rect x="234.8" y="201.1" width="13.4" height="10.3" fill="url(#gold)"/>
<rect x="256.6" y="201.1" width="13.4" height="10.3" fill="url(#gold)"/>
<rect x="278.3" y="201.1" width="13.4" height="10.3" fill="url(#gold)"/>
<rect x="300.3" y="201.1" width="13.4" height="10.3" fill="url(#gold)"/>
<rect x="322.5" y="201.1" width="13.4" height="10.3" fill="url(#gold)"/>
<rect x="343.8" y="201.1" width="13.4" height="10.3" fill="url(#gold)"/>
<rect x="365.4" y="201.1" width="13.4" height="10.3" fill="url(#gold)"/>
<rect x="387.4" y="201.1" width="13.4" height="10.3" fill="url(#gold)"/>
<rect x="235.2" y="432.6" width="13.4" height="13.4" fill="url(#gold)"/>
<rect x="256.8" y="432.6" width="13.4" height="13.4" fill="url(#gold)"/>
<rect x="278.3" y="432.6" width="13.4" height="13.4" fill="url(#gold)"/>
<rect x="300.5" y="432.6" width="13.4" height="13.4" fill="url(#gold)"/>
<rect x="322.1" y="432.6" width="13.4" height="13.4" fill="url(#gold)"/>
<rect x="343.6" y="432.6" width="13.4" height="13.4" fill="url(#gold)"/>
<rect x="365.5" y="432.6" width="13.4" height="13.4" fill="url(#gold)"/>
<rect x="387.9" y="432.6" width="13.4" height="13.4" fill="url(#gold)"/>
<rect x="195.6" y="241.2" width="8.8" height="13.4" fill="url(#gold)"/>
<rect x="195.6" y="263.0" width="8.8" height="13.4" fill="url(#gold)"/>
<rect x="195.6" y="284.8" width="8.8" height="13.4" fill="url(#gold)"/>
<rect x="195.6" y="306.6" width="8.8" height="13.4" fill="url(#gold)"/>
<rect x="195.6" y="371.8" width="8.8" height="13.4" fill="url(#gold)"/>
<rect x="195.6" y="393.6" width="8.8" height="13.4" fill="url(#gold)"/>
<rect x="424.6" y="241.4" width="15.8" height="13.2" fill="url(#gold)"/>
<rect x="424.6" y="262.9" width="15.8" height="13.2" fill="url(#gold)"/>
<rect x="424.6" y="284.7" width="15.8" height="13.2" fill="url(#gold)"/>
<rect x="424.6" y="306.2" width="15.8" height="13.2" fill="url(#gold)"/>
<rect x="424.6" y="327.9" width="15.8" height="13.2" fill="url(#gold)"/>
<rect x="424.6" y="350.0" width="15.8" height="13.2" fill="url(#gold)"/>
<rect x="424.6" y="371.8" width="15.8" height="13.2" fill="url(#gold)"/>
<rect x="424.6" y="393.4" width="15.8" height="13.2" fill="url(#gold)"/>
<rect x="278.6" y="201.1" width="34.8" height="10.3" fill="url(#gold)"/>
<rect x="469.1" y="209.2" width="11.3" height="14.6" fill="url(#gold)"/>
<path d="M122.2,329.3 L137.0,315.0" stroke="url(#gold)" stroke-width="13" fill="none"/>
<rect x="108.0" y="435.7" width="21.9" height="26.2" fill="url(#gold)"/>
<rect x="147.1" y="435.7" width="22.3" height="26.2" fill="url(#gold)"/>
<circle cx="164.3" cy="59.5" r="11.4" fill="url(#gold)"/>
<circle cx="170.8" cy="87.8" r="11.4" fill="url(#gold)"/>
<circle cx="216.3" cy="90.8" r="11.4" fill="url(#gold)"/>
<circle cx="259.6" cy="93.3" r="11.4" fill="url(#gold)"/>
<circle cx="299.3" cy="56.4" r="11.4" fill="url(#gold)"/>
<circle cx="385.3" cy="45.7" r="11.4" fill="url(#gold)"/>
<circle cx="438.3" cy="44.7" r="11.4" fill="url(#gold)"/>
<circle cx="491.7" cy="46.4" r="11.4" fill="url(#gold)"/>
<circle cx="370.0" cy="73.5" r="11.4" fill="url(#gold)"/>
<circle cx="393.9" cy="79.3" r="11.4" fill="url(#gold)"/>
<circle cx="390.0" cy="140.5" r="11.4" fill="url(#gold)"/>
<circle cx="364.5" cy="173.0" r="11.4" fill="url(#gold)"/>
<circle cx="160.2" cy="165.5" r="9.8" fill="url(#gold)"/>
<circle cx="215.8" cy="191.5" r="9.8" fill="url(#gold)"/>
<circle cx="193.7" cy="215.3" r="9.8" fill="url(#gold)"/>
<circle cx="89.3" cy="288.9" r="11.4" fill="url(#gold)"/>
<circle cx="122.2" cy="329.3" r="11.4" fill="url(#gold)"/>
<circle cx="459.0" cy="175.1" r="9.8" fill="url(#gold)"/>
<circle cx="422.0" cy="202.2" r="9.8" fill="url(#gold)"/>
<circle cx="436.4" cy="225.4" r="9.8" fill="url(#gold)"/>
<circle cx="467.5" cy="216.4" r="9.8" fill="url(#gold)"/>
<circle cx="500.3" cy="245.8" r="9.8" fill="url(#gold)"/>
<circle cx="517.8" cy="269.5" r="9.8" fill="url(#gold)"/>
<circle cx="509.2" cy="117.2" r="9.8" fill="url(#gold)"/>
<circle cx="476.6" cy="348.0" r="9.8" fill="url(#gold)"/>
<circle cx="514.9" cy="356.4" r="9.8" fill="url(#gold)"/>
<circle cx="516.6" cy="386.0" r="9.8" fill="url(#gold)"/>
<circle cx="509.3" cy="411.9" r="9.8" fill="url(#gold)"/>
<circle cx="516.6" cy="461.5" r="11.4" fill="url(#gold)"/>
<circle cx="454.6" cy="463.6" r="9.8" fill="url(#gold)"/>
<circle cx="428.0" cy="467.8" r="9.8" fill="url(#gold)"/>
<circle cx="522.9" cy="490.2" r="9.8" fill="url(#gold)"/>
<circle cx="507.6" cy="515.3" r="9.8" fill="url(#gold)"/>
<circle cx="420.0" cy="515.8" r="9.8" fill="url(#gold)"/>
<circle cx="508.0" cy="573.0" r="9.8" fill="url(#gold)"/>
<circle cx="531.9" cy="590.5" r="11.4" fill="url(#gold)"/>
<circle cx="513.6" cy="622.7" r="9.8" fill="url(#gold)"/>
<circle cx="428.5" cy="581.2" r="11.4" fill="url(#gold)"/>
<circle cx="411.0" cy="671.0" r="11.4" fill="url(#gold)"/>
<circle cx="69.7" cy="482.8" r="11.4" fill="url(#gold)"/>
<circle cx="97.0" cy="482.8" r="11.4" fill="url(#gold)"/>
<circle cx="124.2" cy="482.8" r="11.4" fill="url(#gold)"/>
<circle cx="151.3" cy="483.2" r="11.4" fill="url(#gold)"/>
<circle cx="178.3" cy="484.4" r="11.4" fill="url(#gold)"/>
<circle cx="212.3" cy="492.3" r="9.8" fill="url(#gold)"/>
<circle cx="187.3" cy="518.5" r="11.4" fill="url(#gold)"/>
<circle cx="237.4" cy="521.5" r="9.8" fill="url(#gold)"/>
<circle cx="210.1" cy="539.3" r="11.4" fill="url(#gold)"/>
<circle cx="203.3" cy="437.0" r="9.8" fill="url(#gold)"/>
<circle cx="304.6" cy="517.5" r="9.8" fill="url(#gold)"/>
<circle cx="354.5" cy="515.5" r="9.8" fill="url(#gold)"/>
<circle cx="389.8" cy="517.0" r="9.8" fill="url(#gold)"/>
<circle cx="420.0" cy="516.6" r="9.8" fill="url(#gold)"/>
<circle cx="219.0" cy="635.5" r="11.4" fill="url(#gold)"/>
<circle cx="307.7" cy="627.0" r="11.4" fill="url(#gold)"/>
<circle cx="201.0" cy="663.0" r="11.4" fill="url(#gold)"/>
<circle cx="85.9" cy="693.4" r="11.4" fill="url(#gold)"/>
<circle cx="132.8" cy="694.0" r="11.4" fill="url(#gold)"/>
<circle cx="181.7" cy="694.0" r="11.4" fill="url(#gold)"/>
<circle cx="220.8" cy="689.6" r="11.4" fill="url(#gold)"/>
<circle cx="532.0" cy="696.0" r="11.4" fill="url(#gold)"/>
<circle cx="166.6" cy="380.2" r="9.8" fill="url(#gold)"/>
<circle cx="294.8" cy="203.8" r="9.8" fill="url(#gold)"/>
<circle cx="164.3" cy="59.5" r="3.1" fill="#a98a2e"/>
<circle cx="170.8" cy="87.8" r="3.1" fill="#a98a2e"/>
<circle cx="216.3" cy="90.8" r="3.1" fill="#a98a2e"/>
<circle cx="259.6" cy="93.3" r="3.1" fill="#a98a2e"/>
<circle cx="299.3" cy="56.4" r="3.1" fill="#a98a2e"/>
<circle cx="385.3" cy="45.7" r="3.1" fill="#a98a2e"/>
<circle cx="438.3" cy="44.7" r="3.1" fill="#a98a2e"/>
<circle cx="491.7" cy="46.4" r="3.1" fill="#a98a2e"/>
<circle cx="370.0" cy="73.5" r="3.1" fill="#a98a2e"/>
<circle cx="393.9" cy="79.3" r="3.1" fill="#a98a2e"/>
<circle cx="390.0" cy="140.5" r="3.1" fill="#a98a2e"/>
<circle cx="364.5" cy="173.0" r="3.1" fill="#a98a2e"/>
<circle cx="160.2" cy="165.5" r="3.1" fill="#a98a2e"/>
<circle cx="215.8" cy="191.5" r="3.1" fill="#a98a2e"/>
<circle cx="193.7" cy="215.3" r="3.1" fill="#a98a2e"/>
<circle cx="89.3" cy="288.9" r="3.1" fill="#a98a2e"/>
<circle cx="122.2" cy="329.3" r="3.1" fill="#a98a2e"/>
<circle cx="459.0" cy="175.1" r="3.1" fill="#a98a2e"/>
<circle cx="458.8" cy="177.3" r="0.8" fill="#b3a49f"/>
<circle cx="422.0" cy="202.2" r="3.1" fill="#a98a2e"/>
<circle cx="422.3" cy="204.1" r="1.1" fill="#b3a49f"/>
<circle cx="436.4" cy="225.4" r="3.1" fill="#a98a2e"/>
<circle cx="436.5" cy="227.0" r="1.3" fill="#b3a49f"/>
<circle cx="467.5" cy="216.4" r="3.1" fill="#a98a2e"/>
<circle cx="467.2" cy="218.2" r="1.2" fill="#b3a49f"/>
<circle cx="500.3" cy="245.8" r="3.1" fill="#a98a2e"/>
<circle cx="499.7" cy="247.2" r="1.5" fill="#b3a49f"/>
<circle cx="517.8" cy="269.5" r="3.1" fill="#a98a2e"/>
<circle cx="517.0" cy="270.6" r="1.6" fill="#b3a49f"/>
<circle cx="509.2" cy="117.2" r="3.1" fill="#a98a2e"/>
<circle cx="476.6" cy="348.0" r="3.1" fill="#a98a2e"/>
<circle cx="476.2" cy="348.3" r="2.6" fill="#b3a49f"/>
<circle cx="514.9" cy="356.4" r="3.1" fill="#a98a2e"/>
<circle cx="514.1" cy="356.6" r="2.2" fill="#b3a49f"/>
<circle cx="516.6" cy="386.0" r="3.1" fill="#a98a2e"/>
<circle cx="515.8" cy="385.8" r="2.2" fill="#b3a49f"/>
<circle cx="509.3" cy="411.9" r="3.1" fill="#a98a2e"/>
<circle cx="508.6" cy="411.4" r="2.1" fill="#b3a49f"/>
<circle cx="516.6" cy="461.5" r="3.1" fill="#a98a2e"/>
<circle cx="515.8" cy="460.5" r="1.7" fill="#b3a49f"/>
<circle cx="454.6" cy="463.6" r="3.1" fill="#a98a2e"/>
<circle cx="454.5" cy="462.5" r="1.9" fill="#b3a49f"/>
<circle cx="428.0" cy="467.8" r="3.3" fill="#222018"/>
<circle cx="522.9" cy="490.2" r="3.1" fill="#a98a2e"/>
<circle cx="522.0" cy="488.8" r="1.4" fill="#b3a49f"/>
<circle cx="507.6" cy="515.3" r="3.1" fill="#a98a2e"/>
<circle cx="506.9" cy="513.6" r="1.2" fill="#b3a49f"/>
<circle cx="420.0" cy="515.8" r="3.1" fill="#a98a2e"/>
<circle cx="420.3" cy="514.1" r="1.3" fill="#b3a49f"/>
<circle cx="508.0" cy="573.0" r="3.1" fill="#a98a2e"/>
<circle cx="531.9" cy="590.5" r="3.1" fill="#a98a2e"/>
<circle cx="513.6" cy="622.7" r="3.1" fill="#a98a2e"/>
<circle cx="428.5" cy="581.2" r="3.1" fill="#a98a2e"/>
<circle cx="411.0" cy="671.0" r="3.1" fill="#a98a2e"/>
<circle cx="69.7" cy="482.8" r="3.1" fill="#a98a2e"/>
<circle cx="97.0" cy="482.8" r="3.1" fill="#a98a2e"/>
<circle cx="124.2" cy="482.8" r="3.1" fill="#a98a2e"/>
<circle cx="151.3" cy="483.2" r="3.1" fill="#a98a2e"/>
<circle cx="178.3" cy="484.4" r="3.1" fill="#a98a2e"/>
<circle cx="212.3" cy="492.3" r="3.1" fill="#a98a2e"/>
<circle cx="187.3" cy="518.5" r="3.1" fill="#a98a2e"/>
<circle cx="237.4" cy="521.5" r="3.1" fill="#a98a2e"/>
<circle cx="210.1" cy="539.3" r="3.1" fill="#a98a2e"/>
<circle cx="203.3" cy="437.0" r="3.1" fill="#a98a2e"/>
<circle cx="304.6" cy="517.5" r="3.1" fill="#a98a2e"/>
<circle cx="354.5" cy="515.5" r="3.1" fill="#a98a2e"/>
<circle cx="355.5" cy="513.8" r="1.0" fill="#b3a49f"/>
<circle cx="389.8" cy="517.0" r="3.1" fill="#a98a2e"/>
<circle cx="390.4" cy="515.3" r="1.2" fill="#b3a49f"/>
<circle cx="420.0" cy="516.6" r="3.1" fill="#a98a2e"/>
<circle cx="420.3" cy="514.9" r="1.3" fill="#b3a49f"/>
<circle cx="219.0" cy="635.5" r="3.1" fill="#a98a2e"/>
<circle cx="307.7" cy="627.0" r="3.1" fill="#a98a2e"/>
<circle cx="201.0" cy="663.0" r="3.1" fill="#a98a2e"/>
<circle cx="85.9" cy="693.4" r="3.1" fill="#a98a2e"/>
<circle cx="132.8" cy="694.0" r="3.1" fill="#a98a2e"/>
<circle cx="181.7" cy="694.0" r="3.1" fill="#a98a2e"/>
<circle cx="220.8" cy="689.6" r="3.1" fill="#a98a2e"/>
<circle cx="532.0" cy="696.0" r="3.1" fill="#a98a2e"/>
<circle cx="166.6" cy="380.2" r="3.1" fill="#a98a2e"/>
<circle cx="294.8" cy="203.8" r="3.1" fill="#a98a2e"/>
<rect x="194.5" y="328.4" width="11" height="12.4" fill="#ececec"/>
<rect x="194.5" y="350.3" width="11" height="12.4" fill="#ececec"/>
<defs><linearGradient id="bgu" gradientUnits="userSpaceOnUse" x1="0" y1="0" x2="0" y2="739"><stop offset="0" stop-color="#cbc3c2"/><stop offset="1" stop-color="#9d8a89"/></linearGradient>
<clipPath id="h00"><circle cx="570.0" cy="93.6" r="21.3"/></clipPath>
<clipPath id="h01"><circle cx="570.0" cy="204.0" r="21.3"/></clipPath>
<clipPath id="h02"><circle cx="570.0" cy="314.2" r="21.3"/></clipPath>
<clipPath id="h03"><circle cx="570.0" cy="424.5" r="21.3"/></clipPath>
<clipPath id="h04"><circle cx="570.0" cy="535.0" r="21.3"/></clipPath>
<clipPath id="h05"><circle cx="570.0" cy="645.3" r="21.3"/></clipPath>
<clipPath id="h10"><circle cx="680.3" cy="93.6" r="21.3"/></clipPath>
<clipPath id="h11"><circle cx="680.3" cy="204.0" r="21.3"/></clipPath>
<clipPath id="h12"><circle cx="680.3" cy="314.2" r="21.3"/></clipPath>
<clipPath id="h13"><circle cx="680.3" cy="424.5" r="21.3"/></clipPath>
<clipPath id="h14"><circle cx="680.3" cy="535.0" r="21.3"/></clipPath>
<clipPath id="h15"><circle cx="680.3" cy="645.3" r="21.3"/></clipPath>
<clipPath id="h20"><circle cx="791.0" cy="93.6" r="21.3"/></clipPath>
<clipPath id="h21"><circle cx="791.0" cy="204.0" r="21.3"/></clipPath>
<clipPath id="h22"><circle cx="791.0" cy="314.2" r="21.3"/></clipPath>
<clipPath id="h23"><circle cx="791.0" cy="424.5" r="21.3"/></clipPath>
<clipPath id="h24"><circle cx="791.0" cy="535.0" r="21.3"/></clipPath>
<clipPath id="h25"><circle cx="791.0" cy="645.3" r="21.3"/></clipPath>
</defs>
<circle cx="570.0" cy="93.6" r="21.3" fill="#9c7d24"/>
<circle cx="567.1" cy="99.9" r="21.0" fill="url(#bgu)" clip-path="url(#h00)"/>
<circle cx="570.0" cy="204.0" r="21.3" fill="#9c7d24"/>
<circle cx="567.1" cy="207.8" r="21.0" fill="url(#bgu)" clip-path="url(#h01)"/>
<circle cx="570.0" cy="314.2" r="21.3" fill="#9c7d24"/>
<circle cx="567.1" cy="315.5" r="21.0" fill="url(#bgu)" clip-path="url(#h02)"/>
<circle cx="570.0" cy="424.5" r="21.3" fill="#9c7d24"/>
<circle cx="567.1" cy="423.3" r="21.0" fill="url(#bgu)" clip-path="url(#h03)"/>
<circle cx="570.0" cy="535.0" r="21.3" fill="#9c7d24"/>
<circle cx="567.1" cy="531.2" r="21.0" fill="url(#bgu)" clip-path="url(#h04)"/>
<circle cx="570.0" cy="645.3" r="21.3" fill="#9c7d24"/>
<circle cx="567.1" cy="639.0" r="21.0" fill="url(#bgu)" clip-path="url(#h05)"/>
<circle cx="680.3" cy="93.6" r="21.3" fill="#9c7d24"/>
<circle cx="674.9" cy="99.9" r="21.0" fill="url(#bgu)" clip-path="url(#h10)"/>
<circle cx="680.3" cy="204.0" r="21.3" fill="#9c7d24"/>
<circle cx="674.9" cy="207.8" r="21.0" fill="url(#bgu)" clip-path="url(#h11)"/>
<circle cx="680.3" cy="314.2" r="21.3" fill="#9c7d24"/>
<circle cx="674.9" cy="315.5" r="21.0" fill="url(#bgu)" clip-path="url(#h12)"/>
<circle cx="680.3" cy="424.5" r="21.3" fill="#9c7d24"/>
<circle cx="674.9" cy="423.3" r="21.0" fill="url(#bgu)" clip-path="url(#h13)"/>
<circle cx="680.3" cy="535.0" r="21.3" fill="#9c7d24"/>
<circle cx="674.9" cy="531.2" r="21.0" fill="url(#bgu)" clip-path="url(#h14)"/>
<circle cx="680.3" cy="645.3" r="21.3" fill="#9c7d24"/>
<circle cx="674.9" cy="639.0" r="21.0" fill="url(#bgu)" clip-path="url(#h15)"/>
<circle cx="791.0" cy="93.6" r="21.3" fill="#9c7d24"/>
<circle cx="783.1" cy="99.9" r="21.0" fill="url(#bgu)" clip-path="url(#h20)"/>
<circle cx="791.0" cy="204.0" r="21.3" fill="#9c7d24"/>
<circle cx="783.1" cy="207.8" r="21.0" fill="url(#bgu)" clip-path="url(#h21)"/>
<circle cx="791.0" cy="314.2" r="21.3" fill="#9c7d24"/>
<circle cx="783.1" cy="315.5" r="21.0" fill="url(#bgu)" clip-path="url(#h22)"/>
<circle cx="791.0" cy="424.5" r="21.3" fill="#9c7d24"/>
<circle cx="783.1" cy="423.3" r="21.0" fill="url(#bgu)" clip-path="url(#h23)"/>
<circle cx="791.0" cy="535.0" r="21.3" fill="#9c7d24"/>
<circle cx="783.1" cy="531.2" r="21.0" fill="url(#bgu)" clip-path="url(#h24)"/>
<circle cx="791.0" cy="645.3" r="21.3" fill="#9c7d24"/>
<circle cx="783.1" cy="639.0" r="21.0" fill="url(#bgu)" clip-path="url(#h25)"/>
<rect x="183.0" y="134.5" width="12.0" height="3.5" rx="1.8" fill="#ebebeb"/>
<rect x="205.0" y="134.5" width="12.0" height="3.5" rx="1.8" fill="#ebebeb"/>
<rect x="228.0" y="134.5" width="12.0" height="3.5" rx="1.8" fill="#ebebeb"/>
<rect x="252.0" y="134.5" width="12.0" height="3.5" rx="1.8" fill="#ebebeb"/>
<rect x="404.0" y="133.0" width="12.0" height="3.5" rx="1.8" fill="#ebebeb"/>
<rect x="148.2" y="216.0" width="3.6" height="14.0" rx="1.8" fill="#ebebeb"/>
<rect x="148.2" y="239.0" width="3.6" height="13.0" rx="1.8" fill="#ebebeb"/>
<rect x="148.2" y="263.0" width="3.6" height="13.0" rx="1.8" fill="#ebebeb"/>
<rect x="148.2" y="287.0" width="3.6" height="13.0" rx="1.8" fill="#ebebeb"/>
<rect x="148.2" y="310.0" width="3.6" height="13.0" rx="1.8" fill="#ebebeb"/>
<rect x="148.2" y="347.0" width="3.6" height="13.0" rx="1.8" fill="#ebebeb"/>
<rect x="148.2" y="399.0" width="3.6" height="13.0" rx="1.8" fill="#ebebeb"/>
<rect x="479.8" y="91.6" width="13.8" height="4.8" rx="2.4" fill="#ebebeb"/>
<rect x="479.8" y="201.6" width="13.8" height="4.8" rx="2.4" fill="#ebebeb"/>
<rect x="479.8" y="306.9" width="13.8" height="4.8" rx="2.4" fill="#ebebeb"/>
<rect x="479.8" y="422.6" width="13.8" height="4.8" rx="2.4" fill="#ebebeb"/>
<rect x="479.8" y="533.1" width="13.8" height="4.8" rx="2.4" fill="#ebebeb"/>
<rect x="479.8" y="643.6" width="13.8" height="4.8" rx="2.4" fill="#ebebeb"/>
<rect x="443.2" y="184.0" width="3.4" height="12.0" rx="1.7" fill="#ebebeb"/>
<rect x="436.4" y="486.4" width="4.3" height="12.6" rx="2.2" fill="#ebebeb"/>
<circle cx="208.5" cy="214.6" r="13.4" fill="none" stroke="#ebebeb" stroke-width="12"/>
<circle cx="275.4" cy="181.4" r="3.8" fill="#ebebeb"/>
<path d="M427,212 V236" stroke="#ebebeb" stroke-width="3.4"/><path d="M428,411 V434 H405 M204,434 H231" fill="none" stroke="#ebebeb" stroke-width="2.2"/>
<rect x="282" y="87.3" width="104" height="86.6" fill="none" stroke="#ebebeb" stroke-width="5.6" stroke-linejoin="round"/>
<g fill="url(#gold)"><rect x="284.8" y="90" width="39" height="35"/><rect x="343.5" y="90" width="39.5" height="35"/><rect x="284.8" y="134" width="39" height="36"/><rect x="343.5" y="134" width="39.5" height="36"/><rect x="284.8" y="160" width="39" height="10"/></g>
<rect x="289.2" y="94" width="88" height="70.5" fill="#878787"/>
<rect x="113" y="436" width="48.5" height="26.5" fill="#b9b9b9"/><rect x="122" y="436" width="27.5" height="26.5" fill="#cfc7b6"/><rect x="148.6" y="436" width="1.2" height="26.5" fill="#9a958c"/>
<rect x="204.4" y="211.8" width="220.5" height="220.8" fill="url(#chip)"/>
<circle cx="239.7" cy="246" r="11.8" fill="url(#dot)"/>
<defs><clipPath id="c1"><path d="M480,600 H545 V661.2 H513.9 V672 H507.6 V661.2 H480 Z"/></clipPath><clipPath id="c2"><path clip-rule="evenodd" d="M0,630 H420 V690 H0 Z M179,666.8 H187.5 V673 H179 Z M193.3,666.8 H201 V673 H193.3 Z"/></clipPath></defs>
<text x="495.8" y="113.2" font-size="58" fill="#ebebeb">6</text>
<text x="495.8" y="223.6" font-size="58" fill="#ebebeb">5</text>
<text x="495.8" y="333.8" font-size="58" fill="#ebebeb">4</text>
<text x="495.8" y="444.1" font-size="58" fill="#ebebeb">3</text>
<text x="495.8" y="554.6" font-size="58" fill="#ebebeb">2</text>
<text x="493" y="666.0" font-size="60.5" fill="#ebebeb" clip-path="url(#c1)">1</text>
<text transform="translate(490.4,125.0) scale(-0.92,1)" font-size="13.5" fill="#ebebeb" fill-opacity="0.85">R14</text>
<text transform="translate(484.4,268.0) scale(-0.92,1)" font-size="13.5" fill="#ebebeb" fill-opacity="0.85">R13</text>
<text transform="translate(511.5,253.9) scale(-0.92,1)" font-size="13" fill="#ebebeb" fill-opacity="0.7">R12</text>
<text transform="translate(488.8,371) scale(0.92,1)" font-size="13.5" fill="#ebebeb" fill-opacity="0.85">R11</text>
<text x="183.5" y="125.0" font-size="6" fill="#fff7d8" fill-opacity="0.72">R4</text>
<text x="205.0" y="125.0" font-size="6" fill="#fff7d8" fill-opacity="0.72">4T7</text>
<text transform="translate(240.5,125.0) scale(-1,1)" font-size="6" fill="#fff7d8" fill-opacity="0.72">12K</text>
<text x="251.0" y="125.0" font-size="6" fill="#fff7d8" fill-opacity="0.72">5pF</text>
<text x="183.0" y="152.0" font-size="6" fill="#fff7d8" fill-opacity="0.72">R2</text>
<text x="205.0" y="152.0" font-size="6" fill="#fff7d8" fill-opacity="0.72">C20</text>
<text x="229.5" y="150.0" font-size="6" fill="#fff7d8" fill-opacity="0.72">R7</text>
<text x="252.5" y="151.0" font-size="7" fill="#fff7d8" fill-opacity="0.72">C22</text>
<text transform="translate(417.0,125.0) scale(-1,1)" font-size="6" fill="#fff7d8" fill-opacity="0.72">C23</text>
<text transform="translate(417.5,153.0) scale(-1,1)" font-size="6" fill="#fff7d8" fill-opacity="0.72">dp</text>
<text x="481.0" y="528.0" font-size="6" fill="#fff7d8" fill-opacity="0.72">C21</text>
<text x="481.0" y="552.0" font-size="6" fill="#fff7d8" fill-opacity="0.72">R1</text>
<text x="481.5" y="637.0" font-size="6" fill="#fff7d8" fill-opacity="0.72">R7</text>
<text x="479.0" y="662.0" font-size="6" fill="#fff7d8" fill-opacity="0.72">C24</text>
<text transform="translate(139.0,223.1) rotate(-90)" font-size="6" fill="#fff7d8" fill-opacity="0.72" text-anchor="middle">10K</text>
<text transform="translate(165.5,223.1) rotate(-90)" font-size="6" fill="#fff7d8" fill-opacity="0.72" text-anchor="middle">R3</text>
<text transform="translate(139.0,245.5) rotate(-90)" font-size="6" fill="#fff7d8" fill-opacity="0.72" text-anchor="middle">1nF</text>
<text transform="translate(165.5,245.5) rotate(-90)" font-size="6" fill="#fff7d8" fill-opacity="0.72" text-anchor="middle">R5</text>
<text transform="translate(139.0,269.8) rotate(-90)" font-size="6" fill="#fff7d8" fill-opacity="0.72" text-anchor="middle">C8</text>
<text transform="translate(165.5,269.8) rotate(-90)" font-size="6" fill="#fff7d8" fill-opacity="0.72" text-anchor="middle">L2</text>
<text transform="translate(139.0,293.5) rotate(-90)" font-size="6" fill="#fff7d8" fill-opacity="0.72" text-anchor="middle">2n2</text>
<text transform="translate(165.5,293.5) rotate(-90)" font-size="6" fill="#fff7d8" fill-opacity="0.72" text-anchor="middle">C6</text>
<text transform="translate(139.0,316.5) rotate(-90)" font-size="6" fill="#fff7d8" fill-opacity="0.72" text-anchor="middle">2n7</text>
<text transform="translate(165.5,316.5) rotate(-90)" font-size="6" fill="#fff7d8" fill-opacity="0.72" text-anchor="middle">C9</text>
<text transform="translate(139.0,353.5) rotate(-90)" font-size="6" fill="#fff7d8" fill-opacity="0.72" text-anchor="middle">C5</text>
<text transform="translate(165.5,353.5) rotate(-90)" font-size="6" fill="#fff7d8" fill-opacity="0.72" text-anchor="middle">X2</text>
<text transform="translate(139.0,405.6) rotate(-90)" font-size="6" fill="#fff7d8" fill-opacity="0.72" text-anchor="middle">10n</text>
<text transform="translate(165.5,405.6) rotate(-90)" font-size="6" fill="#fff7d8" fill-opacity="0.72" text-anchor="middle">C4</text>
<text transform="translate(434.0,190.5) rotate(-90)" font-size="6" fill="#fff7d8" fill-opacity="0.72" text-anchor="middle">R15</text>
<text transform="translate(460.0,190.5) rotate(-90)" font-size="6" fill="#fff7d8" fill-opacity="0.72" text-anchor="middle">10E</text>
<text transform="translate(427.5,492.5) rotate(-90)" font-size="6" fill="#fff7d8" fill-opacity="0.72" text-anchor="middle">R6</text>
<text transform="translate(454.0,492.5) rotate(-90)" font-size="6" fill="#fff7d8" fill-opacity="0.72" text-anchor="middle">C3</text>
<g font-weight="bold" fill="#ebebeb">
<text x="73.2" y="580.7" font-size="45.4" letter-spacing="0.9">PWM3&gt;Rx</text>
<text x="73.2" y="627.4" font-size="45.4" letter-spacing="0.8">PWM2&gt;Tx</text>
<text x="73.2" y="671.6" font-size="42" letter-spacing="0.6" clip-path="url(#c2)">PWM1=&gt;Boot</text>
</g>
<text transform="translate(607,716.4) scale(1,1.085)" font-size="63" fill="#ebebeb" stroke="#ebebeb" stroke-width="2" stroke-linejoin="round">P</text>
<text x="702.4" y="717.3" font-size="80" fill="#ebebeb" stroke="#ebebeb" stroke-width="0.9" stroke-linejoin="round" style="font-family:'DejaVu Sans',sans-serif">+</text>
<text transform="translate(797.2,726.8) scale(0.83,1)" font-size="86" fill="#ebebeb" stroke="#ebebeb" stroke-width="0.9" stroke-linejoin="round" style="font-family:'DejaVu Sans',sans-serif">−</text>
</g>
</svg></body></html>
